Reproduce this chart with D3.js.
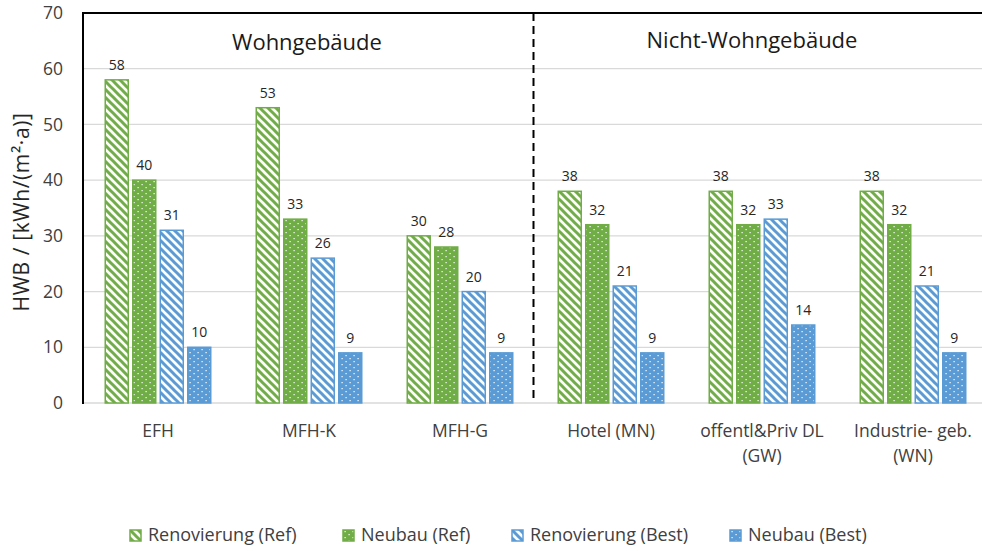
<!DOCTYPE html>
<html>
<head>
<meta charset="utf-8">
<script src="https://cdn.jsdelivr.net/npm/d3@7"></script>
<style>
  body { margin: 0; background: #fff; }
  svg { display: block; font-family: "Open Sans", sans-serif; }
</style>
</head>
<body>
<svg id="chart"></svg>
<script>
// data
const categories = [["EFH"], ["MFH-K"], ["MFH-G"], ["Hotel (MN)"], ["offentl&Priv DL", "(GW)"], ["Industrie- geb.", "(WN)"]]
const seriesNames = ["Renovierung (Ref)", "Neubau (Ref)", "Renovierung (Best)", "Neubau (Best)"]
const renovierungRef = [58, 53, 30, 38, 38, 38]
const neubauRef = [40, 33, 28, 32, 32, 32]
const renovierungBest = [31, 26, 20, 21, 33, 21]
const neubauBest = [10, 9, 9, 9, 14, 9]
const yTicks = [0, 10, 20, 30, 40, 50, 60, 70]
const groupTitles = ["Wohngebäude", "Nicht-Wohngebäude"]

const WIDTH = 982
const HEIGHT = 551
const LEFT = 83
const TOP = 13
const BOTTOM = 403
const GREEN = "#70ad47"
const BLUE = "#5b9bd5"

const seriesValues = [renovierungRef, neubauRef, renovierungBest, neubauBest]
const seriesColor = [GREEN, GREEN, BLUE, BLUE]
const seriesKind = ["hatch", "dots", "hatch", "dots"]

const svg = d3.select("#chart").attr("width", WIDTH).attr("height", HEIGHT)

// patterns
const defs = svg.append("defs")
function makePatterns(id, color) {
  const h = defs.append("pattern").attr("id", "hatch-" + id)
    .attr("patternUnits", "userSpaceOnUse").attr("width", 8).attr("height", 8)
  h.append("rect").attr("width", 8).attr("height", 8).attr("fill", "#fff")
  h.append("path").attr("d", "M-2,-2L10,10M-2,6L2,10M6,-2L10,2")
    .attr("stroke", color).attr("stroke-width", 3)
  const d = defs.append("pattern").attr("id", "dots-" + id)
    .attr("patternUnits", "userSpaceOnUse").attr("width", 8).attr("height", 6)
  d.append("rect").attr("width", 8).attr("height", 6).attr("fill", color)
  d.append("rect").attr("x", 1.5).attr("y", 1).attr("width", 1.2).attr("height", 1.2).attr("fill", "#fff")
  d.append("rect").attr("x", 5.5).attr("y", 4).attr("width", 1.2).attr("height", 1.2).attr("fill", "#fff")
}
makePatterns("g", GREEN)
makePatterns("b", BLUE)
const fillFor = i => `url(#${seriesKind[i]}-${seriesColor[i] === GREEN ? "g" : "b"})`

const catKeys = categories.map(c => c.join(" "))
const x = d3.scaleBand().domain(catKeys).range([82.5, 82.5 + 151 * 6])
const x1 = d3.scaleBand().domain(d3.range(4)).range([0, x.bandwidth()])
  .paddingInner(0.164).paddingOuter(0.827)
const y = d3.scaleLinear().domain([0, 70]).range([BOTTOM, TOP])

// grid
svg.append("g").selectAll("line").data(yTicks.filter(t => t > 0 && t < 70)).enter().append("line")
  .attr("x1", LEFT).attr("x2", WIDTH).attr("y1", d => y(d)).attr("y2", d => y(d))
  .attr("stroke", "#d9d9d9").attr("stroke-width", 1.3)
svg.append("line").attr("x1", LEFT).attr("x2", WIDTH).attr("y1", BOTTOM).attr("y2", BOTTOM)
  .attr("stroke", "#d9d9d9").attr("stroke-width", 1.5)

// y axis
const yAxis = svg.append("g").attr("transform", `translate(${LEFT},0)`)
  .call(d3.axisLeft(y).tickValues(yTicks).tickSize(0).tickPadding(20))
yAxis.select(".domain").remove()
yAxis.selectAll("text").attr("font-size", 17.5).attr("fill", "#404040")
  .attr("font-family", "Open Sans, sans-serif")

svg.append("line").attr("x1", LEFT).attr("x2", LEFT).attr("y1", TOP - 1).attr("y2", BOTTOM + 1)
  .attr("stroke", "#000").attr("stroke-width", 2)
svg.append("line").attr("x1", LEFT - 1).attr("x2", WIDTH).attr("y1", TOP).attr("y2", TOP)
  .attr("stroke", "#000").attr("stroke-width", 2)

svg.append("text").attr("transform", `translate(29,${(TOP + BOTTOM) / 2 + 4}) rotate(-90)`)
  .attr("text-anchor", "middle").attr("font-size", 21).attr("letter-spacing", 0.6).attr("fill", "#262626")
  .text("HWB / [kWh/(m²·a)]")

// bars
seriesValues.forEach((vals, i) => {
  const g = svg.append("g")
  g.selectAll("rect").data(vals).enter().append("rect")
    .attr("x", (d, j) => x(catKeys[j]) + x1(i))
    .attr("y", d => y(d))
    .attr("width", x1.bandwidth())
    .attr("height", d => y(0) - y(d))
    .attr("fill", fillFor(i))
    .attr("stroke", seriesColor[i]).attr("stroke-width", 1.5)
  g.selectAll("text").data(vals).enter().append("text")
    .attr("x", (d, j) => x(catKeys[j]) + x1(i) + x1.bandwidth() / 2)
    .attr("y", d => y(d) - 10)
    .attr("text-anchor", "middle").attr("font-size", 14).attr("fill", "#262626")
    .text(d => d)
})

// divider
const divX = x(catKeys[3]) - 2
svg.append("line").attr("x1", divX).attr("x2", divX).attr("y1", TOP).attr("y2", BOTTOM)
  .attr("stroke", "#000").attr("stroke-width", 2).attr("stroke-dasharray", "8,5")

// group titles
svg.append("text").attr("x", 307).attr("y", 50).attr("text-anchor", "middle")
  .attr("font-size", 22).attr("fill", "#1a1a1a").text(groupTitles[0])
svg.append("text").attr("x", 752).attr("y", 48).attr("text-anchor", "middle")
  .attr("font-size", 22).attr("fill", "#1a1a1a").text(groupTitles[1])

// category labels
const cat = svg.append("g").selectAll("text").data(categories).enter().append("text")
  .attr("text-anchor", "middle").attr("font-size", 17.5).attr("fill", "#404040")
  .attr("transform", (d, j) => `translate(${x(catKeys[j]) + x.bandwidth() / 2},437)`)
cat.selectAll("tspan").data(d => d).enter().append("tspan")
  .attr("x", 0).attr("y", (d, k) => k * 25).text(d => d)

// legend
const legendX = [130, 343, 512, 730]
const leg = svg.append("g").selectAll("g").data(seriesNames).enter().append("g")
  .attr("transform", (d, i) => `translate(${legendX[i]},530)`)
leg.append("rect").attr("width", 11).attr("height", 11)
  .attr("fill", (d, i) => fillFor(i)).attr("stroke", (d, i) => seriesColor[i]).attr("stroke-width", 1.5)
leg.append("text").attr("x", 18).attr("y", 11).attr("font-size", 18).attr("fill", "#404040")
  .text(d => d)
</script>
</body>
</html>
